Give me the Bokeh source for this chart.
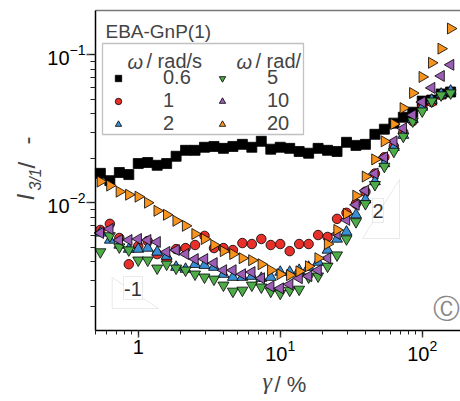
import math
from bokeh.plotting import figure
from bokeh.models import (Legend, LegendItem, Label, BoxAnnotation, PolyAnnotation,
                          LogAxis, LogTickFormatter, ColumnDataSource)
from bokeh.embed import file_html
from bokeh.resources import INLINE

# strain amplitude gamma / %
gamma = [0.541, 0.631, 0.736, 0.858, 1.0, 1.166, 1.359, 1.585, 1.848, 2.154,
         2.512, 2.929, 3.415, 3.981, 4.642, 5.412, 6.310, 7.356, 8.577, 10.0,
         11.66, 13.59, 15.85, 18.48, 21.54, 25.12, 29.29, 34.15, 39.81, 46.42,
         54.12, 63.10, 73.56, 85.77, 100.0, 116.6, 135.9, 158.5]

# I3/1 for each angular frequency
i31_w06 = [0.0158, 0.0141, 0.0160, 0.0155, 0.0184, 0.0187, 0.0179, 0.0184, 0.0206, 0.0226,
           0.0226, 0.0237, 0.0240, 0.0233, 0.0240, 0.0248, 0.0237, 0.0260, 0.0230, 0.0237,
           0.0233, 0.0222, 0.0216, 0.0233, 0.0226, 0.0222, 0.0256, 0.0244, 0.0248, 0.0290,
           0.0314, 0.0345, 0.0378, 0.0409, 0.0486, 0.0494, 0.0543, 0.0560]
i31_w1 = [0.00655, 0.00720, 0.00578, 0.00384, 0.00510, 0.00551, 0.00450, 0.00416, 0.00486, 0.00494,
          0.00518, 0.00597, 0.00494, 0.00494, 0.00479, 0.00534, 0.00526, 0.00569, 0.00518, 0.00526,
          0.00471, 0.00526, 0.00526, 0.00605, 0.00587, 0.00778, 0.00855, 0.00984, 0.01188, 0.01575,
          0.0203, 0.0241, 0.0299, 0.0356, 0.0443, 0.0479, 0.0534, 0.0560]
i31_w2 = [0.00625, 0.00560, 0.00518, 0.00486, 0.00486, 0.00494, 0.00465, 0.00436, 0.00367, 0.00356,
          0.00384, 0.00378, 0.00367, 0.00329, 0.00314, 0.00314, 0.00319, 0.00309, 0.00314, 0.00340,
          0.00340, 0.00350, 0.00367, 0.00397, 0.00479, 0.00569, 0.00635, 0.00829, 0.01048, 0.01390,
          0.0184, 0.0237, 0.0286, 0.0367, 0.0443, 0.0494, 0.0543, 0.0569]
i31_w5 = [0.00465, 0.00597, 0.00502, 0.00479, 0.00409, 0.00409, 0.00361, 0.00384, 0.00361, 0.00350,
          0.00329, 0.00314, 0.00304, 0.00277, 0.00252, 0.00256, 0.00277, 0.00269, 0.00252, 0.00244,
          0.00256, 0.00260, 0.00314, 0.00319, 0.00372, 0.00443, 0.00569, 0.00743, 0.00984, 0.01324,
          0.01758, 0.0222, 0.0281, 0.0356, 0.0416, 0.0486, 0.0534, 0.0551]
i31_w10 = [0.00625, 0.00665, 0.00560, 0.00560, 0.00569, 0.00560, 0.00543, 0.00465, 0.00479, 0.00450,
           0.00416, 0.00416, 0.00391, 0.00350, 0.00350, 0.00329, 0.00340, 0.00309, 0.00272, 0.00264,
           0.00281, 0.00309, 0.00319, 0.00350, 0.00422, 0.00615, 0.00766, 0.00969, 0.01207, 0.01575,
           0.0203, 0.0260, 0.0318, 0.0391, 0.0479, 0.0597, 0.0719, 0.0855]
i31_w20 = [0.01390, 0.01306, 0.01188, 0.01133, 0.01099, 0.0100, 0.00882, 0.00829, 0.00755, 0.00698,
           0.00615, 0.00569, 0.00518, 0.00471, 0.00450, 0.00422, 0.00409, 0.00384, 0.00350, 0.00329,
           0.00324, 0.00344, 0.00372, 0.00422, 0.00526, 0.00655, 0.00842, 0.01116, 0.01503, 0.01963,
           0.0260, 0.0340, 0.0436, 0.0551, 0.0708, 0.0882, 0.1099, 0.1503]

omega_labels = ["0.6", "1", "2", "5", "10", "20"]
series = [i31_w06, i31_w1, i31_w2, i31_w5, i31_w10, i31_w20]
colors = ["#000000", "#e8302a", "#3a8fd4", "#4dab48", "#9c5db4", "#f7931e"]
markers = ["square", "circle", "triangle", "inverted_triangle", "triangle", "triangle"]
angles = [0, 0, 0, 0, math.pi / 2, -math.pi / 2]
sizes = [10, 9.5, 11, 11, 11, 11]

# axis limits (the visible plotting box)
X_MIN, X_MAX = 0.5, 186.0
Y_MIN, Y_MAX = 0.00137, 0.199

FONT = "Liberation Sans"
W, H = 460, 400
# pixel geometry of the plotting box inside the canvas
BOX_L, BOX_T, BOX_B = 95, 10, 330
dec_x = (W - BOX_L) / (math.log10(X_MAX) - math.log10(X_MIN))
dec_y = (BOX_B - BOX_T) / (math.log10(Y_MAX) - math.log10(Y_MIN))
x_lo = 10 ** (math.log10(X_MIN) - BOX_L / dec_x)
y_hi = 10 ** (math.log10(Y_MAX) + BOX_T / dec_y)
y_lo = 10 ** (math.log10(Y_MIN) - (H - BOX_B) / dec_y)

p = figure(width=W, height=H, x_axis_type="log", y_axis_type="log",
           x_range=(x_lo, X_MAX), y_range=(y_lo, y_hi),
           output_backend="svg", toolbar_location=None, min_border=0)
p.outline_line_color = None
p.grid.visible = False
p.background_fill_color = "white"

xa, ya = p.xaxis[0], p.yaxis[0]
xa.fixed_location = Y_MIN
xa.bounds = (X_MIN, X_MAX)
ya.fixed_location = X_MIN
ya.bounds = (Y_MIN, Y_MAX)

for ax in (xa, ya):
    ax.axis_line_color = "black"
    ax.axis_line_width = 1.5
    ax.major_tick_line_color = "#444444"
    ax.minor_tick_line_color = "#222222"
    ax.major_tick_line_width = 1.5
    ax.major_tick_in = 0
    ax.minor_tick_in = 0
    ax.major_label_text_font = FONT
    ax.major_label_text_font_size = "20px"
    ax.major_label_text_color = "black"

xa.major_tick_out = 7
xa.minor_tick_out = 4
xa.major_label_standoff = 2
xa.formatter = LogTickFormatter()
xa.major_label_overrides = {1: "1"}
ya.major_tick_out = 9
ya.minor_tick_out = 5
ya.major_label_standoff = 1

# top frame line
top = LogAxis(fixed_location=Y_MAX, bounds=(X_MIN, X_MAX), axis_line_color="#777777",
              axis_line_width=1.5, major_tick_line_color=None, minor_tick_line_color=None,
              major_label_text_color=None)
p.add_layout(top, "above")

renderers = []
for vals, c, m, a, s in zip(series, colors, markers, angles, sizes):
    src = ColumnDataSource(dict(x=gamma, y=vals))
    r = p.scatter("x", "y", source=src, marker=m, size=s, angle=a,
                  fill_color=c, line_color="black", line_width=0.8)
    renderers.append(r)

# boxes in screen units (page y measured from the top)
def box(l, r, t, b, **kw):
    p.add_layout(BoxAnnotation(left=l, right=r, top=H - t, bottom=H - b,
                               left_units="screen", right_units="screen",
                               top_units="screen", bottom_units="screen",
                               fill_color="white", fill_alpha=1.0, **kw))

box(102, 303, 43, 134, line_color="#333333", line_width=1.3)

legend = Legend(items=[LegendItem(label=l, renderers=[r]) for l, r in zip(omega_labels, renderers)],
                location=(110, H - 135), orientation="vertical", nrows=3,
                padding=0, margin=0, spacing=-3,
                glyph_width=16, glyph_height=16, label_standoff=37,
                label_width=51, label_height=16,
                label_text_font=FONT, label_text_font_size="20px",
                label_text_align="center",
                border_line_color=None, background_fill_alpha=0)
p.add_layout(legend)

def lab(text, x, y, size="20px", style="normal", font=FONT, **kw):
    p.add_layout(Label(x=x, y=H - y, x_units="screen", y_units="screen", text=text,
                       text_font=font, text_font_size=size, text_font_style=style,
                       text_baseline=kw.pop("baseline", "middle"),
                       text_align=kw.pop("align", "left"), **kw))

lab("EBA-GnP(1)", 105, 30.5, size="19px")
lab("ω", 127, 61, style="italic")
lab("/ rad/s", 146, 60)
lab("ω", 236, 61, style="italic")
lab("/ rad/", 255, 60)

# slope triangles
def tri(xs, ys):
    p.add_layout(PolyAnnotation(xs=xs, ys=[H - v for v in ys], xs_units="screen", ys_units="screen",
                                fill_alpha=0, line_color="#bbbbbb", line_width=1))

tri([111.7, 111.7, 158], [277, 308, 308])
box(123, 142, 276, 299, line_color="#bbbbbb", line_width=1)
lab("-1", 132.5, 288, text_color="#333333", align="center")

tri([362, 399, 399], [238, 238, 179])
box(372, 383, 198, 222, line_color="#bbbbbb", line_width=1)
lab("2", 377.5, 210, text_color="#333333", align="center")

lab("Ⓒ", 446, 308, size="27px", font="DejaVu Sans", text_color="#888888", align="center")

# axis titles
lab("I", 25, 200, size="24px", style="italic", angle=math.pi / 2)
lab("3/1", 35, 190, size="16px", style="italic", angle=math.pi / 2)
lab("/", 26, 168, size="24px", angle=math.pi / 2)
lab("-", 26, 144, size="24px", angle=math.pi / 2)
lab("γ", 262, 380, size="24px", style="italic", font="Liberation Serif")
lab("/ %", 274, 384, size="22px")

open("out.html", "w").write(file_html(p, INLINE))
